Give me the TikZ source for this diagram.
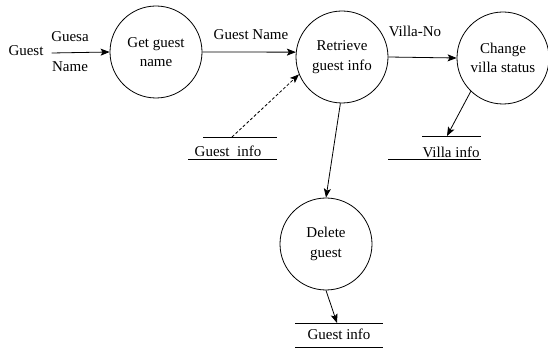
\documentclass[tikz,border=0pt]{standalone}
\usepackage{fontspec}
\setmainfont{Liberation Serif}
\usetikzlibrary{arrows.meta}
\newcommand{\dfdfont}{\fontsize{15}{19.5}\selectfont}
\begin{document}
\begin{tikzpicture}[x=1pt,y=-1pt,
  proc/.style={circle, draw, line width=0.8pt, minimum size=92pt, inner sep=0pt, align=center, font=\dfdfont},
  flow/.style={draw, line width=0.8pt, -{Stealth[length=9pt,width=7pt,inset=2pt]}},
  lbl/.style={font=\dfdfont, inner sep=0pt},
  storeline/.style={line width=0.8pt}]
\useasboundingbox (0,0) rectangle (548,352);

% processes
\node[proc] (get) at (156,52) {Get guest\\name};
\node[proc] (ret) at (342,57) {Retrieve\\guest info};
\node[proc] (chg) at (503,58) {Change\\villa status};
\node[proc] (del) at (326,244) {Delete\\guest};

% external entity and flow labels
\node[lbl] (src) at (26,51) {Guest};
\node[lbl] (lguest) at (70,37) {Guesa};
\node[lbl] (lname) at (70,67) {Name};
\node[lbl] (lgn) at (251,35) {Guest Name};
\node[lbl] (lvno) at (415,31) {Villa-No};

% data stores: text between two horizontal rules
\node[lbl] (gi1) at (228,151) {Guest\enspace info};
\draw[storeline] (203,137) -- (277,137);
\draw[storeline] (188,159) -- (277,159);
\coordinate (gi1top) at (232,137);

\node[lbl] (vinfo) at (451,152) {Villa info};
\draw[storeline] (422,136) -- (481,136);
\draw[storeline] (388,159) -- (481,159);
\coordinate (vinfotop) at (447,136);

\node[lbl] (gi2) at (339,334) {Guest info};
\draw[storeline] (295,323) -- (383,323);
\draw[storeline] (295,347) -- (383,347);
\coordinate (gi2top) at (337,323);

% flows
\draw[flow] ([xshift=8pt,yshift=-2pt]src.east) -- (get.west);
\draw[flow] (get.east) -- (ret.174);
\draw[flow, densely dashed] (gi1top) -- (ret.202);
\draw[flow] (ret.east) -- (chg.west);
\draw[flow] (chg.226) -- (vinfotop);
\draw[flow] (ret.268) -- (del.north);
\draw[flow] (del.south) -- (gi2top);
\end{tikzpicture}
\end{document}
